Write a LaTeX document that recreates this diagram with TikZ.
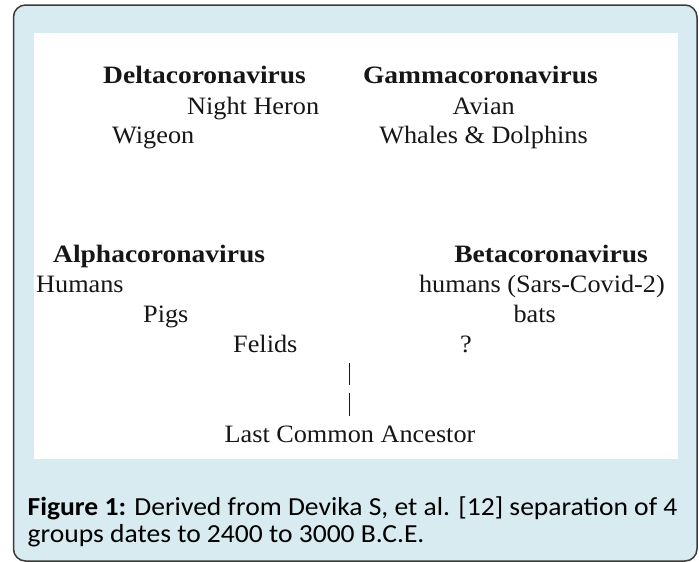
\documentclass[tikz,border=0pt]{standalone}
\usepackage{fontspec}
\setmainfont{Liberation Serif}[FakeStretch=1.05, BoldFeatures={FakeStretch=1.10}]
\newfontfamily\capfont{Carlito}[FakeStretch=1.06]
\definecolor{bgblue}{HTML}{D7EBF1}
\definecolor{frame}{HTML}{3A3A3A}
\definecolor{ink}{HTML}{161616}
\begin{document}
\begin{tikzpicture}[x=1pt,y=-1pt,
  lbl/.style={inner sep=0pt, text=ink, font=\fontsize{25}{29}\selectfont},
  head/.style={lbl, font=\fontsize{25}{29}\selectfont\bfseries},
  captext/.style={inner sep=0pt, text=black, font=\capfont\fontsize{26}{30}\selectfont, anchor=base west},
  barline/.style={draw=ink, line width=1.4pt}]
\useasboundingbox (0,0) rectangle (699,562);
\draw[fill=bgblue, draw=frame, line width=1.5pt, rounded corners=12pt] (13.5,5) rectangle (697,561);
\fill[white] (34,33) rectangle (678,459);
% Delta group
\node[head, anchor=base west] (delta) at (103,83) {Deltacoronavirus};
\node[lbl, anchor=base west] (heron) at (187,114) {Night Heron};
\node[lbl, anchor=base west] (wigeon) at (112,143) {Wigeon};
% Gamma group
\node[head, anchor=base east] (gamma) at (598,83) {Gammacoronavirus};
\node[lbl, anchor=base east] (avian) at (515,114) {Avian};
\node[lbl, anchor=base east] (whales) at (588,143) {Whales \& Dolphins};
% Alpha group
\node[head, anchor=base west] (alpha) at (53,262) {Alphacoronavirus};
\node[lbl, anchor=base west] (humans) at (36,292) {Humans};
\node[lbl, anchor=base west] (pigs) at (143,322) {Pigs};
\node[lbl, anchor=base west] (felids) at (233,352) {Felids};
% Beta group
\node[head, anchor=base east] (beta) at (648,262) {Betacoronavirus};
\node[lbl, anchor=base east] (sars) at (665,292) {humans (Sars-Covid-2)};
\node[lbl, anchor=base east] (bats) at (556,322) {bats};
\node[lbl, anchor=base east] (q) at (472,352) {?};
% stem
\coordinate (b1t) at (349.5,363);
\coordinate (b1b) at (349.5,385);
\coordinate (b2t) at (349.5,393);
\coordinate (b2b) at (349.5,416);
\draw[barline] (b1t) -- (b1b);
\draw[barline] (b2t) -- (b2b);
\node[lbl, anchor=base] (lca) at (350,442) {Last Common Ancestor};
% caption
\node[captext] (cap1) at (27.5,515) {\textbf{Figure 1:} Derived from Devika S, et al. [12] separation of 4};
\node[captext] (cap2) at (27.5,542.5) {groups dates to 2400 to 3000 B.C.E.};
\end{tikzpicture}
\end{document}
